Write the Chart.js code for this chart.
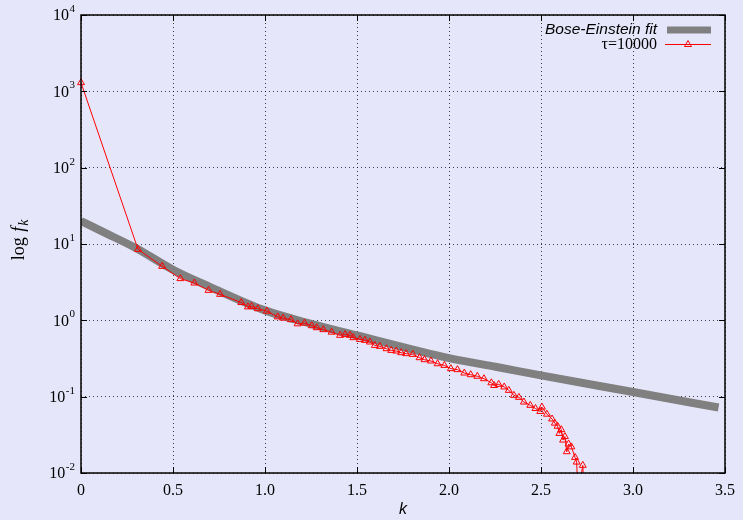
<!DOCTYPE html>
<html lang="en">
<head>
    <meta charset="UTF-8">
    <title>log f_k vs k</title>
    <script src="https://cdn.jsdelivr.net/npm/chart.js"></script>
    <style>
        html, body {
            margin: 0;
            padding: 0;
            background-color: #e6e6fa;
        }
        #wrap {
            width: 743px;
            height: 520px;
        }
    </style>
</head>
<body>
<div id="wrap">
    <canvas id="chart" width="743" height="520"></canvas>
</div>
<script>
    // Bose-Einstein fit curve
    const kFit = [0, 0.12, 0.30, 0.50, 0.70, 1.0, 1.25, 1.5, 2.0, 2.26, 2.5, 3.0, 3.465];
    const fFit = [20, 14.4, 8.8, 4.6, 2.75, 1.35, 0.90, 0.635, 0.32, 0.245, 0.19, 0.115, 0.072];

    // tau = 10000 measurement
    const kTau = [0, 0.31, 0.441, 0.54, 0.616, 0.693, 0.756, 0.871, 0.907, 0.927, 0.961, 1.01,
        1.069, 1.098, 1.141, 1.177, 1.215, 1.254, 1.281, 1.317, 1.362, 1.408, 1.435, 1.462,
        1.48, 1.516, 1.543, 1.57, 1.597, 1.624, 1.66, 1.686, 1.713, 1.74, 1.767, 1.803,
        1.84, 1.867, 1.902, 1.938, 1.975, 2.01, 2.046, 2.083, 2.118, 2.154, 2.19, 2.23,
        2.245, 2.27, 2.30, 2.325, 2.353, 2.38, 2.407, 2.442, 2.47, 2.496, 2.505, 2.532,
        2.56, 2.575, 2.59, 2.60, 2.61, 2.62, 2.63, 2.64, 2.65, 2.665, 2.685, 2.694,
        2.70, 2.727, 2.735];
    const fTau = [1300, 8.5, 5.1, 3.52, 3.08, 2.47, 2.19, 1.71, 1.50, 1.52, 1.42, 1.32,
        1.11, 1.07, 1.02, 0.90, 0.92, 0.85, 0.80, 0.755, 0.70, 0.636, 0.65, 0.636,
        0.593, 0.563, 0.547, 0.52, 0.47, 0.456, 0.425, 0.404, 0.396, 0.377, 0.366, 0.358,
        0.324, 0.305, 0.293, 0.27, 0.257, 0.233, 0.226, 0.204, 0.194, 0.185, 0.172, 0.152,
        0.14, 0.145, 0.134, 0.121, 0.104, 0.098, 0.085, 0.077, 0.070, 0.064, 0.073, 0.059,
        0.051, 0.045, 0.041, 0.033, 0.037, 0.027, 0.030, 0.019, 0.024, 0.022, 0.016, 0.0139,
        0.005, 0.0126, 0.005];

    const xTicks = [0, 0.5, 1, 1.5, 2, 2.5, 3, 3.5];
    const yExponents = [-2, -1, 0, 1, 2, 3, 4];

    const legendLabels = ['Bose-Einstein fit', '\u03c4=10000'];

    const SERIF = '"Liberation Serif", "DejaVu Serif", serif';
    const SANS = '"Liberation Sans", Arial, sans-serif';

    // frame, inward ticks, y tick labels with exponents, y title, key
    const gnuFrame = {
        id: 'gnuFrame',
        afterDraw(chart) {
            const { ctx, chartArea: a, scales: { x, y } } = chart;
            ctx.save();

            ctx.strokeStyle = '#000';
            ctx.lineWidth = 1;
            xTicks.forEach(v => {
                const px = Math.round(x.getPixelForValue(v)) + 0.5;
                ctx.beginPath();
                ctx.moveTo(px, a.bottom); ctx.lineTo(px, a.bottom - 6);
                ctx.moveTo(px, a.top); ctx.lineTo(px, a.top + 6);
                ctx.stroke();
            });
            yExponents.forEach(e => {
                const py = Math.round(y.getPixelForValue(Math.pow(10, e))) + 0.5;
                ctx.beginPath();
                ctx.moveTo(a.left, py); ctx.lineTo(a.left + 6, py);
                ctx.moveTo(a.right, py); ctx.lineTo(a.right - 6, py);
                ctx.stroke();
            });

            ctx.lineWidth = 1.5;
            ctx.strokeRect(a.left, a.top, a.right - a.left, a.bottom - a.top);

            // y tick labels 10^e
            ctx.fillStyle = '#000';
            ctx.textBaseline = 'middle';
            yExponents.forEach(e => {
                const py = y.getPixelForValue(Math.pow(10, e));
                const exp = String(e);
                ctx.font = '11px ' + SERIF;
                ctx.textAlign = 'right';
                const ew = ctx.measureText(exp).width;
                ctx.fillText(exp, a.left - 6, py - 6);
                ctx.font = '16px ' + SERIF;
                ctx.fillText('10', a.left - 6 - ew - 0.5, py + 1);
            });

            // y title: log f_k
            ctx.translate(19, 240);
            ctx.rotate(-Math.PI / 2);
            ctx.font = '18px ' + SERIF;
            const w1 = ctx.measureText('log ').width;
            ctx.font = 'italic 18px ' + SERIF;
            const w2 = ctx.measureText('f').width;
            ctx.font = 'italic 14px ' + SERIF;
            const w3 = ctx.measureText('k').width;
            let tx = -(w1 + w2 + w3 + 2) / 2;
            ctx.textAlign = 'left';
            ctx.font = '18px ' + SERIF;
            ctx.fillText('log ', tx, 0);
            tx += w1 + 1;
            ctx.font = 'italic 18px ' + SERIF;
            ctx.fillText('f', tx, 0);
            tx += w2 + 1;
            ctx.font = 'italic 14px ' + SERIF;
            ctx.fillText('k', tx, 5);
            ctx.restore();

            // key
            ctx.save();
            ctx.textBaseline = 'middle';
            ctx.textAlign = 'right';
            ctx.fillStyle = '#000';
            ctx.font = 'italic 15.5px ' + SANS;
            ctx.fillText(legendLabels[0], 657, 30);
            ctx.strokeStyle = '#808080';
            ctx.lineWidth = 7;
            ctx.beginPath();
            ctx.moveTo(667, 30); ctx.lineTo(711, 30);
            ctx.stroke();

            ctx.font = '16px ' + SERIF;
            ctx.fillText(legendLabels[1], 657, 45);
            ctx.strokeStyle = '#ff0000';
            ctx.lineWidth = 1;
            ctx.beginPath();
            ctx.moveTo(665, 44.5); ctx.lineTo(711, 44.5);
            ctx.stroke();
            const r = 4, cx = 688, cy = 44.5;
            ctx.beginPath();
            ctx.moveTo(cx, cy - r);
            ctx.lineTo(cx + r * Math.sin(2 * Math.PI / 3), cy - r * Math.cos(2 * Math.PI / 3));
            ctx.lineTo(cx + r * Math.sin(4 * Math.PI / 3), cy - r * Math.cos(4 * Math.PI / 3));
            ctx.closePath();
            ctx.stroke();
            ctx.restore();
        }
    };

    new Chart(document.getElementById('chart'), {
        type: 'line',
        data: {
            datasets: [
                {
                    label: legendLabels[0],
                    data: kFit.map((k, i) => ({ x: k, y: fFit[i] })),
                    order: 2,
                    borderColor: '#808080',
                    borderWidth: 8,
                    borderCapStyle: 'butt',
                    pointRadius: 0,
                    cubicInterpolationMode: 'monotone',
                    fill: false
                },
                {
                    label: legendLabels[1],
                    data: kTau.map((k, i) => ({ x: k, y: fTau[i] })),
                    order: 1,
                    borderColor: '#ff0000',
                    borderWidth: 1,
                    pointStyle: 'triangle',
                    pointRadius: 4,
                    pointBorderWidth: 1,
                    pointBorderColor: '#ff0000',
                    pointBackgroundColor: 'rgba(0,0,0,0)',
                    tension: 0,
                    fill: false,
                    clip: { left: 6, top: 8, right: 0, bottom: 0 }
                }
            ]
        },
        options: {
            responsive: false,
            devicePixelRatio: 1,
            animation: false,
            layout: { padding: { left: 0, right: 14, top: 15, bottom: 1 } },
            plugins: {
                legend: { display: false },
                tooltip: { enabled: false }
            },
            scales: {
                x: {
                    type: 'linear',
                    min: 0,
                    max: 3.5,
                    afterFit: s => { s.height = 46; },
                    afterBuildTicks: s => { s.ticks = xTicks.map(v => ({ value: v })); },
                    ticks: {
                        color: '#000',
                        padding: 8,
                        font: { family: SERIF, size: 16 }
                    },
                    grid: { color: 'rgba(0,0,0,0.75)', drawTicks: false, lineWidth: 1 },
                    border: { display: false, dash: [1, 3] },
                    title: {
                        display: true,
                        text: 'k',
                        color: '#000',
                        padding: 0,
                        font: { family: SANS, style: 'italic', size: 16 }
                    }
                },
                y: {
                    type: 'logarithmic',
                    min: 0.01,
                    max: 10000,
                    afterFit: s => { s.width = 81; },
                    afterBuildTicks: s => { s.ticks = yExponents.map(e => ({ value: Math.pow(10, e) })); },
                    ticks: { display: false },
                    grid: { color: 'rgba(0,0,0,0.75)', drawTicks: false, lineWidth: 1 },
                    border: { display: false, dash: [1, 3] }
                }
            }
        },
        plugins: [gnuFrame]
    });
</script>
</body>
</html>
